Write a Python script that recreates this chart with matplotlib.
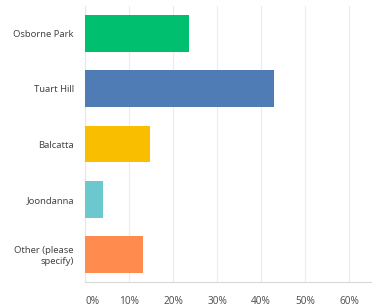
import matplotlib
matplotlib.use("Agg")
import matplotlib.pyplot as plt

categories = ["Osborne Park", "Tuart Hill", "Balcatta", "Joondanna", "Other (please\nspecify)"]
values = [23.6, 43.0, 14.8, 4.1, 13.2]
colors = ["#00bf6f", "#507cb6", "#f9be00", "#6bc8cd", "#ff8b4f"]
xticks = [0, 10, 20, 30, 40, 50, 60]
xticklabels = ["0%", "10%", "20%", "30%", "40%", "50%", "60%"]

fig = plt.figure(figsize=(3.72, 3.07), dpi=100)
ax = fig.add_axes([85/372, 25/307, (371-85)/372, (301-25)/307])
y = list(range(len(categories)))
ax.barh(y, values, height=0.67, color=colors, zorder=3)
ax.set_ylim(len(categories) - 0.5, -0.5)
ax.set_xlim(0, 65)
ax.set_yticks(y)
ax.set_yticklabels(categories, fontsize=6.8, color="#444444", family="Noto Sans", linespacing=1.2)
ax.set_xticks(xticks)
ax.set_xticklabels(xticklabels, fontsize=7.2, color="#555555", family="Noto Sans")
ax.get_xticklabels()[0].set_horizontalalignment("left")
ax.tick_params(axis="both", length=0)
ax.tick_params(axis="y", pad=8)
ax.tick_params(axis="x", pad=10)
for s in ["top", "right"]:
    ax.spines[s].set_visible(False)
ax.spines["left"].set_color("#e6e6e6")
ax.spines["bottom"].set_color("#d9d9d9")
ax.spines["left"].set_linewidth(0.8)
ax.spines["bottom"].set_linewidth(0.8)
ax.grid(axis="x", color="#ececec", linewidth=0.8, zorder=0)
fig.savefig("out.png", dpi=100)
